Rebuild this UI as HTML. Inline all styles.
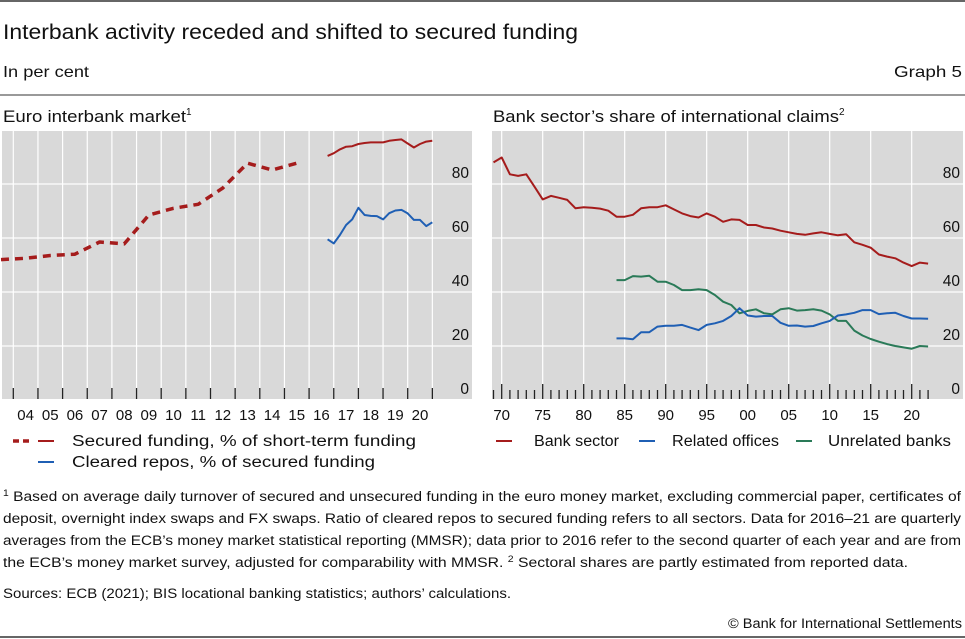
<!DOCTYPE html>
<html><head><meta charset="utf-8"><style>
html,body{margin:0;padding:0;background:#fff;}
svg{display:block;font-family:"Liberation Sans",sans-serif;}
</style></head><body>
<svg id="root" width="965" height="639" viewBox="0 0 965 639">
<line x1="0" y1="1" x2="965" y2="1" stroke="#333" stroke-width="1.5"/>
<text x="3" y="39" font-size="21" fill="#111" textLength="575" lengthAdjust="spacingAndGlyphs">Interbank activity receded and shifted to secured funding</text>
<text x="3" y="77" font-size="16" fill="#111" textLength="86" lengthAdjust="spacingAndGlyphs">In per cent</text>
<text x="962" y="77" font-size="16" fill="#111" text-anchor="end" textLength="68" lengthAdjust="spacingAndGlyphs">Graph 5</text>
<line x1="0" y1="95" x2="965" y2="95" stroke="#333" stroke-width="1"/>
<text x="3" y="122" font-size="16.5" fill="#111"><tspan textLength="183" lengthAdjust="spacingAndGlyphs">Euro interbank market</tspan><tspan font-size="10" dy="-7">1</tspan></text>
<text x="493" y="122" font-size="16.5" fill="#111"><tspan textLength="346" lengthAdjust="spacingAndGlyphs">Bank sector’s share of international claims</tspan><tspan font-size="10" dy="-7">2</tspan></text>
<g id="left"></g>
<g id="right"></g>
<g>
<line x1="13" y1="441" x2="29" y2="441" stroke="#a51c1c" stroke-width="3.5" stroke-dasharray="6,4"/>
<line x1="38" y1="441" x2="54" y2="441" stroke="#a51c1c" stroke-width="2"/>
<text x="72" y="446" font-size="15.5" fill="#111" textLength="344" lengthAdjust="spacingAndGlyphs">Secured funding, % of short-term funding</text>
<line x1="38" y1="462" x2="54" y2="462" stroke="#1f5fb4" stroke-width="2"/>
<text x="72" y="467" font-size="15.5" fill="#111" textLength="303" lengthAdjust="spacingAndGlyphs">Cleared repos, % of secured funding</text>
</g>
<g>
<line x1="496" y1="441" x2="512" y2="441" stroke="#a51c1c" stroke-width="2"/>
<text x="534" y="446" font-size="15.5" fill="#111" textLength="85" lengthAdjust="spacingAndGlyphs">Bank sector</text>
<line x1="639" y1="441" x2="655" y2="441" stroke="#1f5fb4" stroke-width="2"/>
<text x="672" y="446" font-size="15.5" fill="#111" textLength="107" lengthAdjust="spacingAndGlyphs">Related offices</text>
<line x1="796" y1="441" x2="812" y2="441" stroke="#2a7a58" stroke-width="2"/>
<text x="828" y="446" font-size="15.5" fill="#111" textLength="123" lengthAdjust="spacingAndGlyphs">Unrelated banks</text>
</g>
<g font-size="13.5" fill="#111">
<text x="3" y="501" textLength="958" lengthAdjust="spacingAndGlyphs"><tspan font-size="9" dy="-5">1</tspan><tspan dy="5">  Based on average daily turnover of secured and unsecured funding in the euro money market, excluding commercial paper, certificates of</tspan></text>
<text x="3" y="523" textLength="958" lengthAdjust="spacingAndGlyphs">deposit, overnight index swaps and FX swaps. Ratio of cleared repos to secured funding refers to all sectors. Data for 2016–21 are quarterly</text>
<text x="3" y="545" textLength="958" lengthAdjust="spacingAndGlyphs">averages from the ECB’s money market statistical reporting (MMSR); data prior to 2016 refer to the second quarter of each year and are from</text>
<text x="3" y="567" textLength="905" lengthAdjust="spacingAndGlyphs">the ECB’s money market survey, adjusted for comparability with MMSR.    <tspan font-size="9" dy="-5">2</tspan><tspan dy="5">  Sectoral shares are partly estimated from reported data.</tspan></text>
<text x="3" y="598" textLength="508" lengthAdjust="spacingAndGlyphs">Sources: ECB (2021); BIS locational banking statistics; authors’ calculations.</text>
<text x="962" y="628" text-anchor="end" textLength="234" lengthAdjust="spacingAndGlyphs">© Bank for International Settlements</text>
</g>
<line x1="0" y1="637" x2="965" y2="637" stroke="#333" stroke-width="1.5"/>
</svg>
<script>
// Left chart data
const leftDashYears = [2003.5,2004.5,2005.5,2006.5,2007.5,2008.5,2009.5,2010.5,2011.5,2012.5,2013.5,2014.5,2015.5];
const leftDashValues = [52,52.5,53.5,54,58.5,57.8,68.5,71,72.5,78.5,87.7,85.2,87.7];
const leftQYears = [2016.75,2017,2017.25,2017.5,2017.75,2018,2018.25,2018.5,2018.75,2019,2019.25,2019.5,2019.75,2020,2020.25,2020.5,2020.75,2021];
const securedValues = [90.4,91.4,92.8,93.8,94,94.8,95.2,95.4,95.4,95.4,96,96.3,96.5,95,93.5,94.8,95.7,96];
const clearedValues = [59.5,58,61.1,64.8,66.9,71.2,68.5,68.2,68.1,66.9,69.2,70.2,70.4,69.1,66.7,66.7,64.4,65.8];
const leftTickLabels = ["04","05","06","07","08","09","10","11","12","13","14","15","16","17","18","19","20"];
const yTickLabels = [0,20,40,60,80];
// Right chart data
const bankYears = [1969,1970,1971,1972,1973,1974,1975,1976,1977,1978,1979,1980,1981,1982,1983,1984,1985,1986,1987,1988,1989,1990,1991,1992,1993,1994,1995,1996,1997,1998,1999,2000,2001,2002,2003,2004,2005,2006,2007,2008,2009,2010,2011,2012,2013,2014,2015,2016,2017,2018,2019,2020,2021,2022];
const bankValues = [88,89.8,83.6,83,83.6,79,74.3,75.6,74.9,74.1,71,71.4,71.2,70.9,70.1,67.9,67.9,68.6,71,71.4,71.4,72.1,70.6,69.1,68.1,67.6,69.1,67.9,66,66.9,66.7,64.8,64.8,63.9,63.5,62.7,62.1,61.5,61.2,61.7,62.1,61.5,61,61.4,58.4,57.5,56.4,53.9,53.1,52.5,50.9,49.6,50.9,50.5];
const subYears = [1984,1985,1986,1987,1988,1989,1990,1991,1992,1993,1994,1995,1996,1997,1998,1999,2000,2001,2002,2003,2004,2005,2006,2007,2008,2009,2010,2011,2012,2013,2014,2015,2016,2017,2018,2019,2020,2021,2022];
const unrelatedValues = [44.4,44.4,45.9,45.7,46,43.8,43.8,42.6,40.7,40.7,41,40.7,38.9,36.4,35.2,32.1,33,33.6,32.1,31.7,33.6,34,33.1,33.3,33.6,33.1,31.7,29.3,29.3,25.7,23.9,22.6,21.6,20.7,20,19.5,19,20,19.8];
const relatedValues = [22.8,22.8,22.5,25.1,25.1,27.2,27.5,27.5,27.8,26.8,25.9,27.8,28.4,29.3,31.1,34,31.3,30.9,31.1,31.1,28.6,27.5,27.6,27.2,27.4,28.4,29.3,31.3,31.7,32.3,33.3,33.3,31.8,32.1,32.3,31.1,30.2,30.2,30.1];
const rightTickLabels = ["70","75","80","85","90","95","00","05","10","15","20"];

const NS = "http://www.w3.org/2000/svg";
function mk(tag, attrs, parent){const e=document.createElementNS(NS,tag);for(const k in attrs)e.setAttribute(k,attrs[k]);parent.appendChild(e);return e;}
const yScale = v => 400 - v*2.7;

function drawPanel(g, x0, x1, gridXs){
  const bg = mk("rect",{x:x0,y:131,width:x1-x0,height:268,fill:"#d9d9d9"},g);
  
  
  yTickLabels.forEach(v=>{
    if(v>0){const l=mk("line",{x1:x0,x2:x1,y1:yScale(v),y2:yScale(v),stroke:"#fff","stroke-width":1.2},g);
    
    }
  });
  gridXs.forEach(x=>{
    const l=mk("line",{x1:x,x2:x,y1:131,y2:399,stroke:"#fff","stroke-width":1.2},g);
    
    
  });
  yTickLabels.forEach(v=>{
    const t=mk("text",{x:x1-3,y:yScale(v)-6,"font-size":"15.5",fill:"#111","text-anchor":"end"},g);
    t.textContent=v;
    
    
  });
}
function drawLine(g, xs, ys, xf, color, name, dash){
  const d = xs.map((x,i)=>(i?"L":"M")+xf(x).toFixed(1)+","+yScale(ys[i]).toFixed(1)).join("");
  const attrs={d:d,fill:"none",stroke:color,"stroke-width":dash?3.5:2,"stroke-linejoin":"round"};
  if(dash) attrs["stroke-dasharray"]="8,6";
  const p=mk("path",attrs,g);
  
  
}

// Left
const gl=document.getElementById("left");
const lx = y => 13.3 + (y-2004)*24.65;
const lGrid=[]; for(let y=2004;y<=2021;y++) lGrid.push(lx(y));
drawPanel(gl,2,472,lGrid);
lGrid.forEach(x=>{const t=mk("line",{x1:x,x2:x,y1:388,y2:399,stroke:"#222","stroke-width":1.3},gl);
  
  });
leftTickLabels.forEach((s,i)=>{
  const t=mk("text",{x:lx(2004+i+0.5),y:420,"font-size":"15","text-anchor":"middle",fill:"#111"},gl);
  t.textContent=s;
  
  
});
drawLine(gl,leftDashYears,leftDashValues,lx,"#a51c1c","secured-funding-survey-line",true);
drawLine(gl,leftQYears,securedValues,lx,"#a51c1c","secured-funding-line",false);
drawLine(gl,leftQYears,clearedValues,lx,"#1f5fb4","cleared-repos-line",false);

// Right
const gr=document.getElementById("right");
const rx = y => 501.7 + (y-1970)*8.2;
const rGrid=[]; for(let y=1970;y<=2020;y+=5) rGrid.push(rx(y));
drawPanel(gr,492,963,rGrid);
for(let y=1969;y<=2022;y++){
  const major = y%5===0;
  const t=mk("line",{x1:rx(y),x2:rx(y),y1:major?384:390,y2:399,stroke:"#222","stroke-width":1.3},gr);
  
  
}
rightTickLabels.forEach((s,i)=>{
  const t=mk("text",{x:rx(1970+5*i),y:420,"font-size":"15","text-anchor":"middle",fill:"#111"},gr);
  t.textContent=s;
  
  
});
drawLine(gr,bankYears,bankValues,rx,"#a51c1c","bank-sector-line",false);
drawLine(gr,subYears,unrelatedValues,rx,"#2a7a58","unrelated-banks-line",false);
drawLine(gr,subYears,relatedValues,rx,"#1f5fb4","related-offices-line",false);
</script>
</body></html>
